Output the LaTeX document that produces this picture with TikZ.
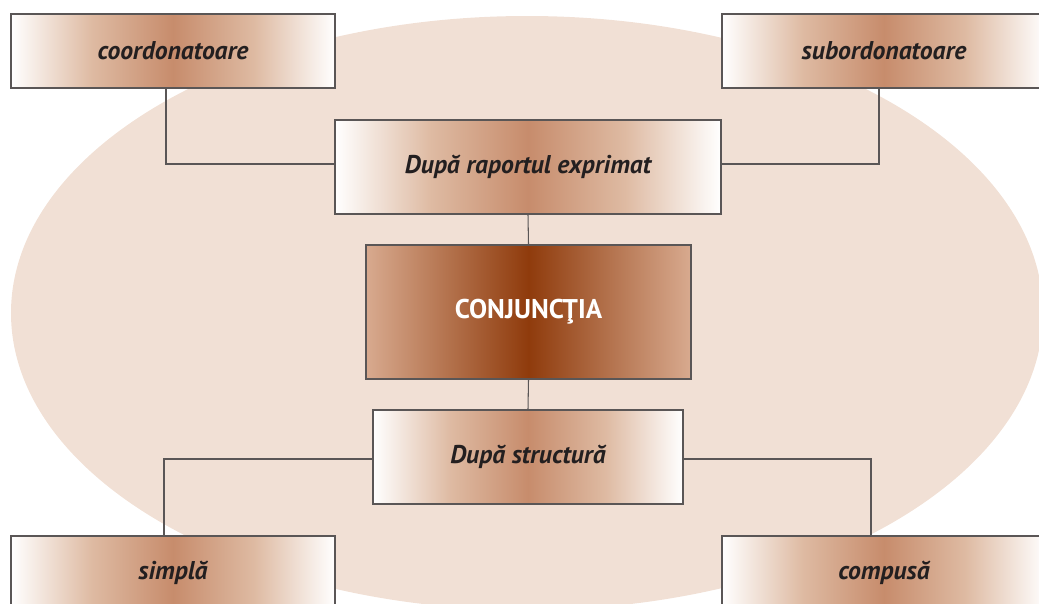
\documentclass[tikz,border=0pt]{standalone}
\usepackage{fontspec}
\setmainfont{PT Sans}
\usetikzlibrary{positioning}
\definecolor{ovalfill}{RGB}{241,224,213}
\definecolor{boxtan}{RGB}{199,140,108}
\definecolor{boxmid}{RGB}{222,186,162}
\definecolor{conjdark}{RGB}{143,59,12}
\definecolor{conjedge}{RGB}{216,170,143}
\definecolor{linegray}{RGB}{90,86,86}
\definecolor{labelink}{RGB}{35,31,32}
% the shading is scaled so that 25bp..75bp covers the box
\pgfdeclarehorizontalshading{tanband}{100bp}{color(0bp)=(white); color(25bp)=(white);
  color(37.5bp)=(boxmid); color(50bp)=(boxtan); color(62.5bp)=(boxmid);
  color(75bp)=(white); color(100bp)=(white)}
\tikzset{
  wire/.style      = {line width=0.6pt, draw=linegray},
  catbox/.style    = {draw=linegray, line width=0.6pt, inner sep=0pt,
                      shading=tanband, shading angle=0,
                      text=labelink, font=\fontsize{14.6}{17}\selectfont\bfseries\itshape},
  leafbox/.style   = {catbox, minimum width=6.48cm, minimum height=1.48cm},
}

\begin{document}
\begin{tikzpicture}[
    rootbox/.style={draw=linegray, line width=0.6pt, inner sep=0pt,
                    left color=conjedge, right color=conjedge, middle color=conjdark,
                    minimum width=6.5cm, minimum height=2.68cm, text=white,
                    font=\fontsize{15.4}{18}\selectfont\bfseries},
  ]
  \useasboundingbox (0,0) rectangle (20.78,-12.06);

  % ---- background oval ---------------------------------------------------
  \fill[ovalfill] (10.54,-6.26) ellipse [x radius=10.32cm, y radius=5.94cm];

  % ---- centre and the two criteria ---------------------------------------
  \node[rootbox] (conj) at (10.57,-6.24) {CONJUNCŢIA};
  \node[catbox, minimum width=7.72cm, minimum height=1.88cm] (raport) at (10.56,-3.34) {După raportul exprimat};
  \node[catbox, minimum width=6.2cm, minimum height=1.88cm] (struct) at (10.56,-9.14) {După structură};

  % ---- the four kinds ----------------------------------------------------
  \node[leafbox] (coord)   at (3.46,-1.02)   {coordonatoare};
  \node[leafbox] (subord)  at (17.68,-1.02)  {subordonatoare};
  \node[leafbox] (simpla)  at (3.46,-11.46)  {simplă};
  \node[leafbox] (compusa) at (17.68,-11.46) {compusă};

  % ---- connectors --------------------------------------------------------
  \draw[wire] (raport.south) -- (conj.north);
  \draw[wire] (conj.south) -- (struct.north);
  \draw[wire] ([xshift=-0.14cm]coord.south) |- ([yshift=0.06cm]raport.west);
  \draw[wire] ([xshift=-0.1cm]subord.south) |- ([yshift=0.06cm]raport.east);
  \draw[wire] ([yshift=-0.04cm]struct.west) -| ([xshift=-0.18cm]simpla.north);
  \draw[wire] ([yshift=-0.04cm]struct.east) -| ([xshift=-0.26cm]compusa.north);
\end{tikzpicture}
\end{document}
